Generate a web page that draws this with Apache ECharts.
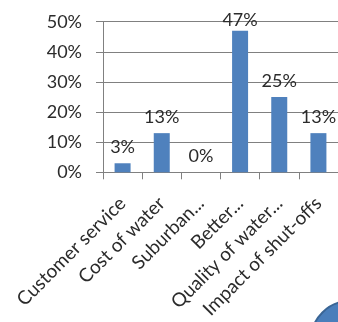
<!DOCTYPE html>
<html><head><meta charset="utf-8">
<script src="https://cdn.jsdelivr.net/npm/echarts@6/dist/echarts.min.js"></script>
<style>html,body{margin:0;padding:0;background:#fff}#c{width:338px;height:322px}</style>
</head><body><div id="c"></div>
<script>
const categories = ["Customer service", "Cost of water", "Suburban...", "Better...", "Quality of water...", "Impact of shut-offs"];
const values = [3, 13, 0, 47, 25, 13];
const yTicks = [0, 10, 20, 30, 40, 50];

const chart = echarts.init(document.getElementById('c'));
const font = 'Lato, "Open Sans", sans-serif';
const maxY = yTicks[yTicks.length-1];
chart.setOption({
  animation: false,
  grid: { left: 103, right: -7, top: 21.7, bottom: 149.7 },
  xAxis: {
    type: 'category', data: categories,
    axisLine: { lineStyle: { color: '#808080', width: 1 } },
    axisTick: { show: true, length: 7, lineStyle: { color: '#808080' } },
    axisLabel: { rotate: 45, interval: 0, margin: 28, color: '#2b2b2b', fontFamily: font, fontSize: 19 }
  },
  yAxis: {
    type: 'value', min: yTicks[0], max: maxY, interval: 10,
    axisLine: { show: true, lineStyle: { color: '#808080' } },
    axisTick: { show: true, inside: false, length: 7, lineStyle: { color: '#808080' } },
    splitLine: { show: true, lineStyle: { color: '#808080' } },
    axisLabel: { margin: 21, color: '#2b2b2b', fontFamily: font, fontSize: 18, formatter: v => v + '%' }
  },
  series: [{
    type: 'bar', barWidth: 16,
    data: values.map(v => ({ value: v, label: { distance: v > maxY - 8 ? 2 : 7 } })),
    itemStyle: { color: '#4f81bd' },
    label: { show: true, position: 'top', color: '#2b2b2b', fontFamily: font, fontSize: 18, formatter: p => p.value + '%' }
  }],
  graphic: [{ type: 'circle', shape: { cx: 350, cy: 340, r: 39 }, style: { fill: '#4a7ebb', stroke: '#3a6595', lineWidth: 2 } }]
});
</script></body></html>
